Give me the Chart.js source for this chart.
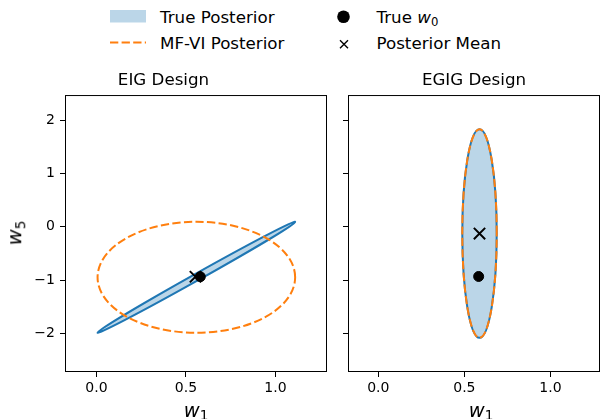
<!DOCTYPE html>
<html>
<head>
<meta charset="utf-8">
<script src="https://cdn.jsdelivr.net/npm/chart.js@4/dist/chart.umd.min.js"></script>
<style>
html, body { margin: 0; padding: 0; width: 608px; height: 419px; overflow: hidden; background: #fff; }
body { position: relative; font-family: "DejaVu Sans", sans-serif; color: #000; }
canvas { position: absolute; }
.txt { position: absolute; white-space: nowrap; font-size: 16.7px; line-height: 20px; }
.alab { position: absolute; white-space: nowrap; font-size: 19.5px; line-height: 19.5px; }
.sub { font-size: 70%; position: relative; top: 0.28em; font-style: normal; }
svg { position: absolute; overflow: visible; }
</style>
</head>
<body>
<!-- figure legend, two columns -->
<svg style="left:0;top:0" width="608" height="60">
  <rect x="110" y="10" width="36" height="12.5" fill="rgba(31,119,180,0.3)"/>
  <line x1="110" y1="42.5" x2="146" y2="42.5" stroke="#ff7f0e" stroke-width="2" stroke-dasharray="8.3 3.3"/>
  <circle cx="343.5" cy="16.7" r="6.3" fill="#000"/>
  <path d="M340 40.2 L348 48.2 M348 40.2 L340 48.2" stroke="#000" stroke-width="1.4"/>
</svg>
<div class="txt" style="left:160px;top:7px">True Posterior</div>
<div class="txt" style="left:160px;top:32.5px">MF-VI Posterior</div>
<div class="txt" style="left:376.5px;top:7px">True <i>w</i><span class="sub">0</span></div>
<div class="txt" style="left:376.5px;top:32.5px">Posterior Mean</div>

<canvas id="eig" width="337" height="359" style="left:0;top:60px"></canvas>
<canvas id="egig" width="272" height="359" style="left:338px;top:60px"></canvas>

<div class="alab" style="left:196px;top:400.5px;transform:translateX(-50%)"><i>w</i><span class="sub">1</span></div>
<div class="alab" style="left:481px;top:400.5px;transform:translateX(-50%)"><i>w</i><span class="sub">1</span></div>
<div class="alab" style="left:16px;top:233px;transform:translate(-50%,-50%) rotate(-90deg)"><i>w</i><span class="sub">5</span></div>

<script>
const panelTitles = ['EIG Design', 'EGIG Design'];
const xTicks = [0, 0.5, 1];
const xTickLabels = ['0.0', '0.5', '1.0'];
const yTicks = [-2, -1, 0, 1, 2];
const yTickLabels = ['\u22122', '\u22121', '0', '1', '2'];
const xRange = [-0.176, 1.288];
const yRange = [-2.72, 2.47];

// gaussian contours: centre, half extents along w1 / w5, correlation
const eigTrueMean = [0.558, -0.945];
const eigTrueSpread = [0.552, 1.04];
const eigTrueCorr = 0.9975;
const eigMfviMean = [0.558, -0.945];
const eigMfviSpread = [0.552, 1.04];
const egigTrueMean = [0.588, -0.125];
const egigTrueSpread = [0.1, 1.955];
const egigTrueCorr = 0;
const egigMfviMean = [0.588, -0.125];
const egigMfviSpread = [0.1, 1.955];

// markers
const trueW0 = [[0.58, -0.935], [0.583, -0.93]];
const posteriorMean = [[0.553, -0.935], [0.588, -0.125]];

const font = { family: '"DejaVu Sans", sans-serif', size: 14 };
const blueFill = 'rgba(31,119,180,0.3)';

// kept out of the chart options so chart.js doesn't resolve extra keys into them
const panelShapes = {
    eig: [
        { mean: eigTrueMean, spread: eigTrueSpread, corr: eigTrueCorr, fill: blueFill, stroke: '#1f77b4' },
        { mean: eigMfviMean, spread: eigMfviSpread, corr: 0, fill: null, stroke: '#ff7f0e', dash: [8.3, 3.3] }
    ],
    egig: [
        { mean: egigTrueMean, spread: egigTrueSpread, corr: egigTrueCorr, fill: blueFill, stroke: '#1f77b4' },
        { mean: egigMfviMean, spread: egigMfviSpread, corr: 0, fill: null, stroke: '#ff7f0e', dash: [8.3, 3.3] }
    ]
};

function drawEllipse(chart, s) {
    const ctx = chart.ctx;
    const x = chart.scales.x, y = chart.scales.y;
    const px = x.getPixelForValue(s.mean[0]);
    const py = y.getPixelForValue(s.mean[1]);
    const kx = x.getPixelForValue(s.mean[0] + 1) - px;
    const ky = y.getPixelForValue(s.mean[1] + 1) - py;
    const sx = s.spread[0], sy = s.spread[1], c = s.corr;
    ctx.save();
    ctx.beginPath();
    ctx.transform(kx * sx, ky * c * sy, 0, ky * sy * Math.sqrt(1 - c * c), px, py);
    ctx.arc(0, 0, 1, 0, Math.PI * 2);
    ctx.closePath();
    ctx.restore();
    if (s.fill) {
        ctx.fillStyle = s.fill;
        ctx.fill();
    }
    ctx.strokeStyle = s.stroke;
    ctx.lineWidth = 2;
    ctx.setLineDash(s.dash || []);
    ctx.stroke();
    ctx.setLineDash([]);
}

const contourPlugin = {
    id: 'contours',
    beforeDatasetsDraw(chart) {
        const ctx = chart.ctx, a = chart.chartArea;
        ctx.save();
        ctx.beginPath();
        ctx.rect(a.left, a.top, a.right - a.left, a.bottom - a.top);
        ctx.clip();
        panelShapes[chart.canvas.id].forEach(s => drawEllipse(chart, s));
        ctx.restore();
    },
    afterDraw(chart) {
        const ctx = chart.ctx, a = chart.chartArea;
        ctx.save();
        ctx.strokeStyle = '#000';
        ctx.lineWidth = 1;
        ctx.strokeRect(a.left + 0.5, a.top + 0.5, a.right - a.left - 1, a.bottom - a.top - 1);
        ctx.restore();
    }
};

function makePanel(id, idx, showYLabels, yWidth, rightPad) {
    return new Chart(document.getElementById(id), {
        type: 'scatter',
        data: {
            datasets: [{
                label: 'True w0',
                data: [{ x: trueW0[idx][0], y: trueW0[idx][1] }],
                pointStyle: 'circle',
                pointRadius: 5,
                borderWidth: 1,
                backgroundColor: '#000',
                borderColor: '#000'
            }, {
                label: 'Posterior Mean',
                data: [{ x: posteriorMean[idx][0], y: posteriorMean[idx][1] }],
                pointStyle: 'crossRot',
                pointRadius: 8,
                borderWidth: 2,
                borderColor: '#000'
            }]
        },
        options: {
            responsive: false,
            animation: false,
            devicePixelRatio: 1,
            events: [],
            layout: { padding: { left: 0, right: rightPad, top: 0, bottom: 0 } },
            plugins: {
                legend: { display: false },
                tooltip: { enabled: false },
                title: {
                    display: true,
                    text: panelTitles[idx],
                    color: '#000',
                    font: { family: font.family, size: 16.7, weight: 'normal' },
                    padding: { top: 10.9, bottom: 4.1 }
                }
            },
            scales: {
                x: {
                    type: 'linear',
                    min: xRange[0],
                    max: xRange[1],
                    afterBuildTicks: s => { s.ticks = xTicks.map(v => ({ value: v })); },
                    afterFit: s => { s.height = 47; },
                    ticks: {
                        callback: v => xTickLabels[xTicks.indexOf(v)],
                        color: '#000', font: font, padding: 3, maxRotation: 0, autoSkip: false
                    },
                    grid: { drawOnChartArea: false, tickLength: 5, color: '#000', lineWidth: 1 },
                    border: { display: false }
                },
                y: {
                    type: 'linear',
                    min: yRange[0],
                    max: yRange[1],
                    afterBuildTicks: s => { s.ticks = yTicks.map(v => ({ value: v })); },
                    afterFit: s => { s.width = yWidth; },
                    ticks: {
                        display: showYLabels,
                        callback: v => yTickLabels[yTicks.indexOf(v)],
                        color: '#000', font: font, padding: 5, autoSkip: false
                    },
                    grid: { drawOnChartArea: false, tickLength: 5, color: '#000', lineWidth: 1 },
                    border: { display: false }
                }
            }
        },
        plugins: [contourPlugin]
    });
}

makePanel('eig', 0, true, 65, 10);
makePanel('egig', 1, false, 10, 0);
</script>
</body>
</html>
